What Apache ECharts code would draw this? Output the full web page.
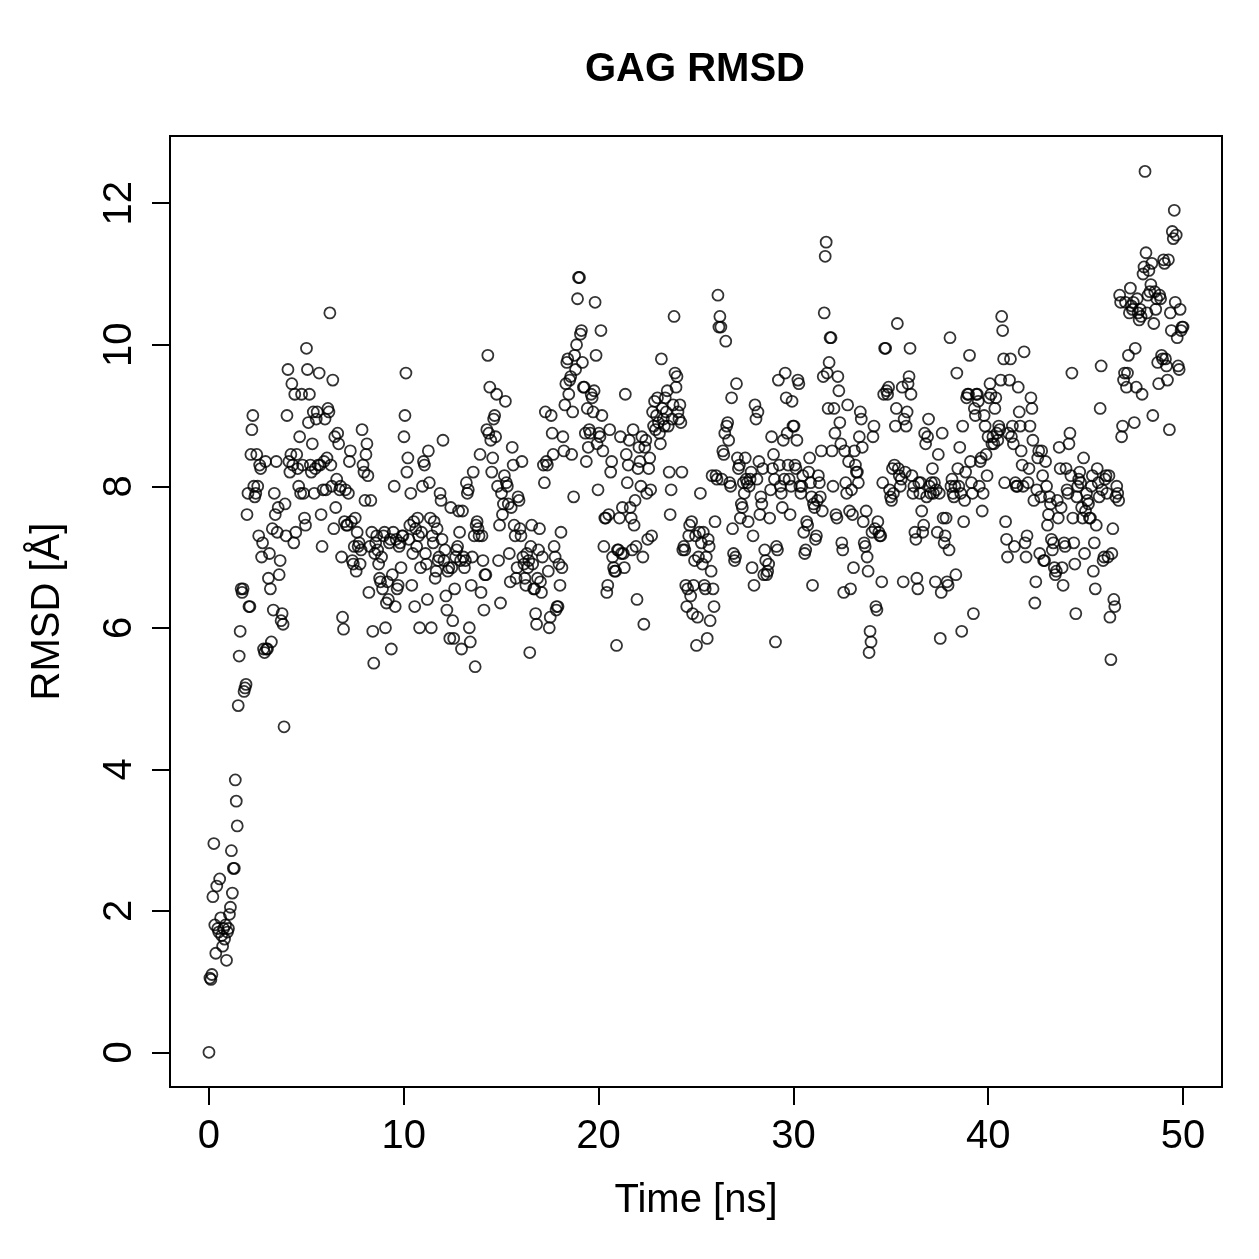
<!DOCTYPE html>
<html><head><meta charset="utf-8">
<script src="https://cdn.jsdelivr.net/npm/echarts@6/dist/echarts.min.js"></script>
<style>html,body{margin:0;padding:0;background:#fff}#c{width:1259px;height:1259px}</style>
</head><body><div id="c"></div>
<script>
const titleText = 'GAG RMSD';
const xName = 'Time [ns]';
const yName = 'RMSD [Å]';
const xTicks = [0, 10, 20, 30, 40, 50];
const yTicks = [0, 2, 4, 6, 8, 10, 12];
const simEnd = 50;
// RMSD values, one every 0.05 ns
const rmsd0_10 = [0,
1.05,1.03,1.1,2.2,2.95,1.8,1.4,2.35,1.75,1.7,2.45,1.9,1.65,1.5,1.75,1.6,1.8,1.3,1.7,1.75,
1.95,2.05,2.85,2.25,2.6,2.6,3.85,3.55,3.2,4.9,5.6,5.95,6.55,6.5,6.55,5.1,5.15,5.2,7.6,7.9,
6.3,6.3,8.45,8.8,9.0,8.0,7.85,7.9,8.45,8.0,7.3,8.3,8.25,7.0,7.2,5.7,5.65,8.35,5.7,5.7,
6.7,7.05,6.55,5.8,7.4,6.25,7.9,7.6,8.35,7.35,7.7,6.75,6.95,6.1,6.2,6.05,4.6,7.75,7.3,9.0,
9.65,8.35,8.2,8.45,9.45,8.3,7.2,9.3,7.35,8.45,8.25,8.0,8.7,7.9,9.3,8.3,7.9,7.55,7.45,9.95,
9.65,8.9,9.3,8.3,8.2,8.6,9.05,7.9,8.25,8.95,9.05,8.3,9.6,8.3,7.6,7.15,7.95,8.35,8.95,7.95,
8.4,9.1,9.05,10.45,8.3,8.0,9.5,7.4,8.7,7.7,8.1,8.75,8.6,7.95,8.0,7.0,6.15,5.98,7.5,7.95,
7.45,7.45,7.9,8.35,8.5,7.5,6.95,6.9,7.15,7.55,6.8,7.35,7.15,7.2,6.9,7.1,8.8,8.3,8.2,7.8,
8.45,8.6,8.15,6.5,7.15,7.8,7.35,5.95,5.5,7.05,7.2,7.3,7.1,6.9,6.7,6.65,7.0,6.55,7.3,7.35,
6.0,6.35,6.65,6.4,7.2,7.25,5.7,6.75,7.35,8.0,6.3,7.25,6.55,6.6,7.15,7.2,6.85,7.3,7.3];
const rmsd10_20 = [
8.7,9.0,9.6,8.2,8.4,7.25,7.45,7.9,6.6,7.05,7.5,6.3,7.4,7.15,7.55,7.3,6.0,6.85,7.35,8.0,
8.35,8.3,7.05,6.9,6.4,8.5,8.05,7.55,6.0,7.3,7.2,7.5,6.7,6.8,7.4,6.95,7.0,7.9,7.8,7.25,
8.65,6.95,7.1,6.45,6.25,6.8,6.85,5.85,7.7,6.85,6.1,5.85,6.55,7.0,7.1,7.15,7.65,7.35,6.95,5.7,
7.65,7.0,6.85,6.95,8.05,7.9,7.95,6.0,5.8,6.6,7.0,8.2,7.3,5.45,7.45,7.5,7.4,7.3,8.45,6.5,
7.3,6.95,6.25,6.75,6.75,8.8,9.85,8.75,9.4,8.65,8.2,8.4,8.95,9.0,8.7,9.3,8.0,6.95,7.45,6.35,
7.9,7.6,7.75,8.15,9.2,8.05,8.0,7.75,7.05,6.65,7.7,8.55,8.3,7.45,7.3,6.7,6.85,7.85,7.8,7.4,
7.3,8.35,7.0,6.9,6.7,6.6,7.05,6.85,6.95,5.65,7.15,7.45,6.9,6.55,6.55,6.2,6.05,6.7,7.1,7.4,
6.65,6.5,7.0,8.3,8.05,9.05,8.35,8.3,6.8,6.0,6.15,9.0,8.75,8.45,7.15,7.0,6.25,6.3,6.3,6.9,
6.6,7.35,6.85,8.7,8.5,9.15,9.45,9.75,9.8,9.3,9.5,9.55,8.45,9.05,7.85,9.85,9.65,10.0,10.65,10.95,
10.95,10.15,10.2,9.75,9.4,9.4,8.75,8.35,9.1,8.55,8.8,8.75,9.3,9.25,9.05,9.35,10.6,9.85,8.6,7.95];
const rmsd20_30 = [
8.75,8.7,10.2,9.0,8.5,7.15,7.55,7.55,6.5,6.6,7.6,8.8,8.2,8.35,7.0,6.85,6.8,6.8,5.75,7.1,
7.1,7.55,8.7,7.05,7.7,7.05,6.85,9.3,8.45,8.05,8.3,8.65,7.7,7.55,7.1,8.8,7.45,7.8,7.15,6.4,
8.25,8.55,8.35,8.0,8.7,7.0,6.05,8.55,8.65,7.9,7.25,8.25,8.4,7.95,7.3,9.05,8.85,9.2,8.8,9.0,
9.25,8.9,8.75,8.6,9.8,9.1,8.95,8.85,9.25,9.05,9.35,8.85,8.2,7.6,7.95,8.95,9.15,10.4,9.6,9.4,
9.55,9.05,8.95,9.15,8.9,8.2,7.1,7.15,7.1,6.6,6.3,6.55,7.3,7.45,6.45,7.5,6.2,6.6,6.95,7.3,
5.75,6.15,7.0,7.35,7.9,7.2,6.9,7.35,6.6,6.55,7.0,5.85,7.25,7.15,6.1,6.8,8.15,6.55,6.3,7.5,
8.15,8.1,10.7,10.25,10.4,10.25,8.1,8.5,8.45,8.75,10.05,8.85,8.9,8.65,8.05,8.0,9.25,7.4,7.05,6.95,
7.0,9.45,8.4,8.25,8.3,7.55,7.75,7.7,8.05,7.9,8.4,8.1,8.05,7.5,8.0,8.1,8.2,6.85,7.3,6.6,
9.15,8.95,8.1,9.05,8.35,7.6,7.85,7.75,8.25,6.75,7.1,6.95,6.75,6.8,6.9,7.55,7.95,8.7,8.25,8.45,
8.1,5.8,7.15,7.1,9.5,8.3,8.0,7.9,7.7,8.65,8.1,9.6,9.25,8.75,8.3,8.1,7.6,8.0,9.2,8.85];
const rmsd30_40 = [
8.85,8.3,8.25,8.65,9.5,9.45,8.0,7.9,8.0,8.15,7.35,7.05,7.1,7.5,7.45,8.2,8.4,8.05,7.85,6.6,
7.75,7.7,7.25,7.3,7.8,8.15,8.05,7.85,8.5,7.65,9.55,10.45,11.25,11.45,9.6,9.1,9.75,10.1,10.1,8.5,
8.0,9.1,8.75,7.6,7.55,9.55,9.35,8.9,8.6,7.2,7.1,6.5,8.5,8.05,7.9,9.15,8.35,7.65,6.55,7.95,
7.6,6.85,8.5,8.3,8.2,8.2,8.05,8.7,9.05,8.95,8.55,7.5,7.2,7.15,7.65,7.0,6.8,5.65,5.95,5.8,
7.35,8.7,8.85,7.4,6.3,6.25,7.5,7.35,7.3,7.3,6.65,8.05,9.3,9.95,9.95,9.35,9.3,9.4,7.95,7.85,
7.8,8.25,7.9,8.3,8.85,9.1,10.3,8.25,8.15,8.0,8.1,9.4,6.65,8.95,8.2,8.85,9.05,9.45,9.55,9.95,
9.3,8.15,7.9,8.0,7.35,7.25,6.7,6.55,8.05,7.9,8.05,7.65,7.35,7.45,8.75,8.6,7.85,8.7,8.95,8.0,
7.9,8.05,8.25,7.9,8.05,6.65,7.95,7.35,8.45,7.9,5.85,6.5,8.75,7.55,7.2,7.3,7.55,6.65,6.6,7.1,
10.1,8.0,8.1,7.9,7.85,8.0,6.75,9.6,8.25,8.0,8.55,7.9,5.95,8.85,7.5,7.8,8.2,9.25,9.3,9.3,
9.85,8.35,8.05,7.9,6.2,9.1,9.0,9.3,9.3,9.2,8.0,8.35,8.4,7.65,7.9,9.0,8.85,8.45,8.15,8.7];
const rmsd40_50 = [
9.25,9.45,9.3,8.6,8.7,8.6,9.1,9.25,8.75,8.65,8.85,8.8,9.5,10.4,10.2,9.8,8.05,7.5,7.25,7.0,
8.75,9.5,9.8,8.7,8.85,8.6,7.15,8.05,8.0,8.0,9.4,9.05,8.85,8.5,8.3,8.0,9.9,7.2,7.0,7.3,
8.05,8.25,8.85,9.25,9.1,8.65,7.8,6.35,6.65,7.95,8.4,8.5,7.05,7.85,8.5,8.15,6.95,6.95,8.35,8.0,
7.45,7.6,7.85,7.75,7.25,7.1,7.2,6.85,6.75,6.8,7.8,7.55,8.55,8.25,7.7,6.85,6.6,7.2,7.15,8.25,
7.95,7.9,8.6,8.75,8.15,9.6,7.55,7.2,6.9,6.2,7.85,8.0,8.1,8.2,8.05,7.7,7.55,8.4,7.05,7.65,
7.9,7.8,7.75,7.55,7.55,8.0,8.15,6.8,7.2,6.55,7.45,8.25,8.05,7.85,9.1,9.7,7.95,6.95,7.0,8.1,
8.15,7.9,7.0,8.15,6.15,5.55,7.05,7.4,6.4,6.3,7.85,8.0,7.9,7.8,10.7,10.6,8.7,8.85,9.5,9.6,
10.6,9.4,9.6,9.85,10.45,10.8,10.55,10.5,10.6,8.9,9.95,9.4,10.65,10.45,10.35,10.5,10.4,9.3,11.0,11.1,
12.45,11.3,10.45,10.7,11.05,10.75,10.85,11.15,9.0,10.3,10.75,10.5,10.65,9.75,9.45,10.7,10.65,9.85,9.8,11.2,
11.15,9.8,9.7,9.5,11.2,8.8,10.45,10.2,11.6,11.5,11.9,10.6,11.55,10.1,9.7,9.65,10.5,10.2,10.25,10.25];

const rmsd = [].concat(rmsd0_10, rmsd10_20, rmsd20_30, rmsd30_40, rmsd40_50);
const step = simEnd / (rmsd.length - 1);
const points = rmsd.map((v, i) => [i * step, v]);

const FONT = '"Liberation Sans", Arial, Helvetica, sans-serif';
const chart = echarts.init(document.getElementById('c'), null, {renderer: 'canvas'});
chart.setOption({
  animation: false,
  backgroundColor: '#fff',
  title: {
    text: titleText, left: 690, top: 45, textAlign: 'center',
    textStyle: {fontFamily: FONT, fontSize: 40, fontWeight: 'bold', color: '#000'}
  },
  grid: {left: 170, right: 37, top: 136, bottom: 172, show: true, borderColor: '#000', borderWidth: 2, backgroundColor: 'transparent'},
  xAxis: {
    type: 'value', min: -2, max: 52,
    name: xName, nameLocation: 'middle', nameGap: 94,
    nameTextStyle: {fontFamily: FONT, fontSize: 40, color: '#000'},
    axisLine: {show: false, onZero: false},
    axisTick: {show: true, inside: false, length: 18, customValues: xTicks, lineStyle: {color: '#000', width: 2}},
    axisLabel: {show: true, customValues: xTicks, margin: 30, fontFamily: FONT, fontSize: 40, color: '#000'},
    splitLine: {show: false}
  },
  yAxis: {
    type: 'value', min: -0.49, max: 12.95,
    name: yName, nameLocation: 'middle', nameGap: 102, nameRotate: 90,
    nameTextStyle: {fontFamily: FONT, fontSize: 40, color: '#000'},
    axisLine: {show: false, onZero: false},
    axisTick: {show: true, inside: false, length: 18, customValues: yTicks, lineStyle: {color: '#000', width: 2}},
    axisLabel: {show: true, customValues: yTicks, rotate: 90, margin: 30, fontFamily: FONT, fontSize: 40, color: '#000'},
    splitLine: {show: false}
  },
  series: [{
    type: 'scatter', data: points, symbol: 'circle', symbolSize: 11,
    itemStyle: {color: 'rgba(0,0,0,0)', borderColor: '#000', borderWidth: 1.8},
    emphasis: {disabled: true}
  }]
});
</script></body></html>
